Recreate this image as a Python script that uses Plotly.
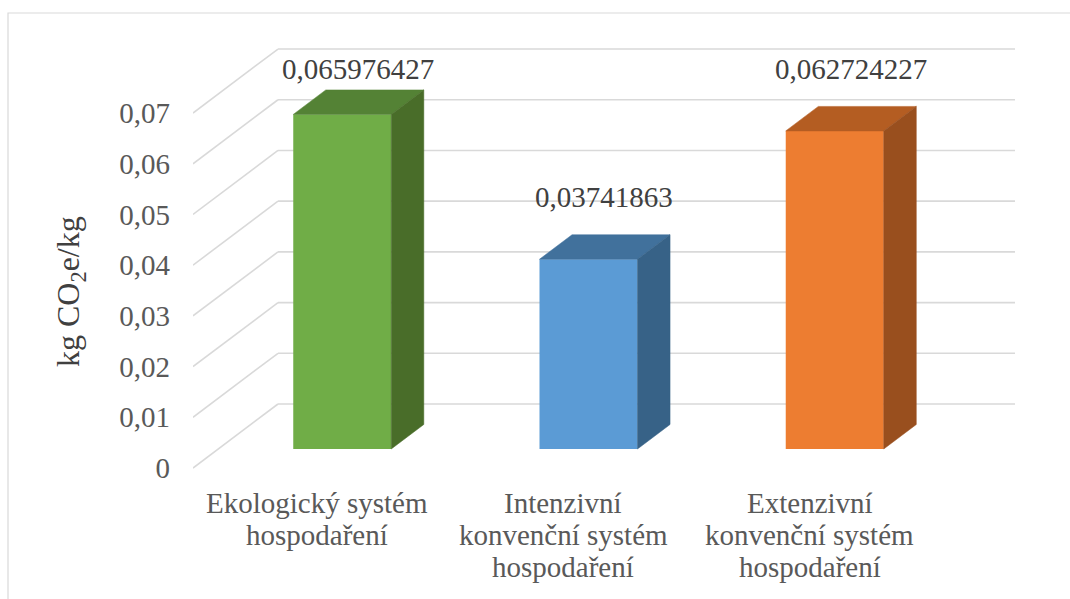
import plotly.graph_objects as go

# --- data -------------------------------------------------------------
categories = [
    "Ekologický systém<br>hospodaření",
    "Intenzivní<br>konvenční systém<br>hospodaření",
    "Extenzivní<br>konvenční systém<br>hospodaření",
]
values = [0.065976427, 0.03741863, 0.062724227]
tick_values = [0, 0.01, 0.02, 0.03, 0.04, 0.05, 0.06, 0.07]
y_title = "kg CO<sub>2</sub>e/kg"

# --- style ------------------------------------------------------------
front_colors = ["#70AD47", "#5B9BD5", "#ED7D31"]
top_colors = ["#548235", "#41719C", "#B45D22"]
side_colors = ["#496D29", "#376287", "#994F1E"]
grid_color = "#D9D9D9"
font_family = "Times New Roman, Liberation Serif, DejaVu Serif, serif"
text_gray = "#595959"
label_gray = "#404040"

W, H = 1070, 599
L, R, T, B = 193, 1015, 40, 470          # plot area in pixels
PX_PER_CAT = 246.25                        # horizontal pixels per category
PX_PER_UNIT = 5071.0                       # vertical pixels per value unit
CAT0_PX = 317.0                            # first category centre on the front plane
ZERO_PX = 468.0                            # value 0 on the front plane

x_range = [(L - CAT0_PX) / PX_PER_CAT, (R - CAT0_PX) / PX_PER_CAT]
y_range = [(ZERO_PX - B) / PX_PER_UNIT, (ZERO_PX - T) / PX_PER_UNIT]

# oblique projection of the depth axis (front = 0, back wall = 1)
DX = 85 / PX_PER_CAT
DY = 64 / PX_PER_UNIT
D_FRONT, D_BACK = 0.297, 0.68              # depth span occupied by the columns
BAR_W = 98 / PX_PER_CAT


def px_x(px):
    return (px - L) / (R - L)


def px_y(py):
    return (B - py) / (B - T)


fig = go.Figure()
shapes = []

# walls: horizontal lines on the back wall, oblique lines on the side wall
x_left = x_range[0]
for v in tick_values:
    shapes.append(dict(type="line", xref="x", yref="y", layer="below",
                       x0=x_left + DX, y0=v + DY, x1=x_range[1], y1=v + DY,
                       line=dict(color=grid_color, width=1.6)))
    shapes.append(dict(type="line", xref="x", yref="y", layer="below",
                       x0=x_left, y0=v, x1=x_left + DX, y1=v + DY,
                       line=dict(color=grid_color, width=1.6)))

# chart frame
shapes.append(dict(type="rect", xref="paper", yref="paper", layer="below",
                   x0=px_x(8), y0=px_y(13), x1=px_x(W + 20), y1=px_y(H + 20),
                   line=dict(color=grid_color, width=1.2)))

idx = list(range(len(values)))
ddx = (D_BACK - D_FRONT) * DX
ddy = (D_BACK - D_FRONT) * DY

# front faces of the columns
fig.add_trace(go.Bar(
    x=[i + D_FRONT * DX for i in idx],
    y=values,
    base=[D_FRONT * DY] * len(values),
    width=BAR_W,
    marker=dict(color=front_colors, line=dict(width=0)),
    hoverinfo="skip",
))

# top and side faces
for i, v in zip(idx, values):
    xl = i + D_FRONT * DX - BAR_W / 2
    xr = i + D_FRONT * DX + BAR_W / 2
    yb = D_FRONT * DY
    yt = v + D_FRONT * DY
    fig.add_trace(go.Scatter(
        x=[xl, xr, xr + ddx, xl + ddx, xl],
        y=[yt, yt, yt + ddy, yt + ddy, yt],
        fill="toself", fillcolor=top_colors[i], mode="lines",
        line=dict(color=top_colors[i], width=0.5), hoverinfo="skip"))
    fig.add_trace(go.Scatter(
        x=[xr, xr, xr + ddx, xr + ddx, xr],
        y=[yb, yt, yt + ddy, yb + ddy, yb],
        fill="toself", fillcolor=side_colors[i], mode="lines",
        line=dict(color=side_colors[i], width=0.5), hoverinfo="skip"))

annotations = []

# value labels above the columns
LABEL_GAP = 0.0161
LABEL_CAP = 0.0786
for i, v in zip(idx, values):
    annotations.append(dict(
        x=i + 0.485 * DX, y=min(v + LABEL_GAP, LABEL_CAP),
        xref="x", yref="y", showarrow=False, yanchor="middle",
        text=str(v).replace(".", ","),
        font=dict(family=font_family, size=29, color=label_gray)))

# category labels, one line at a time
LINE_STEP = 32
for i, cat in zip(idx, categories):
    for k, line in enumerate(cat.split("<br>")):
        annotations.append(dict(
            x=i, y=0, xref="x", yref="paper", showarrow=False,
            yanchor="middle", yshift=-(33 + k * LINE_STEP),
            text=line,
            font=dict(family=font_family, size=29, color=text_gray)))

# y axis title
annotations.append(dict(
    x=px_x(70), y=px_y(291), xref="paper", yref="paper", showarrow=False,
    textangle=-90, xanchor="center", yanchor="middle", text=y_title,
    font=dict(family=font_family, size=32, color=label_gray)))

fig.update_layout(
    width=W, height=H,
    margin=dict(l=L, r=W - R, t=T, b=H - B, pad=0),
    paper_bgcolor="white", plot_bgcolor="white",
    showlegend=False,
    separators=", ",
    font=dict(family=font_family),
    shapes=shapes,
    annotations=annotations,
    xaxis=dict(range=x_range, visible=False, fixedrange=True),
    yaxis=dict(range=y_range, tickvals=tick_values, showgrid=False,
               zeroline=False, showline=False, ticks="",
               ticklabelstandoff=22,
               tickfont=dict(family=font_family, size=29, color=text_gray),
               fixedrange=True),
)

fig.write_html("out.html")
